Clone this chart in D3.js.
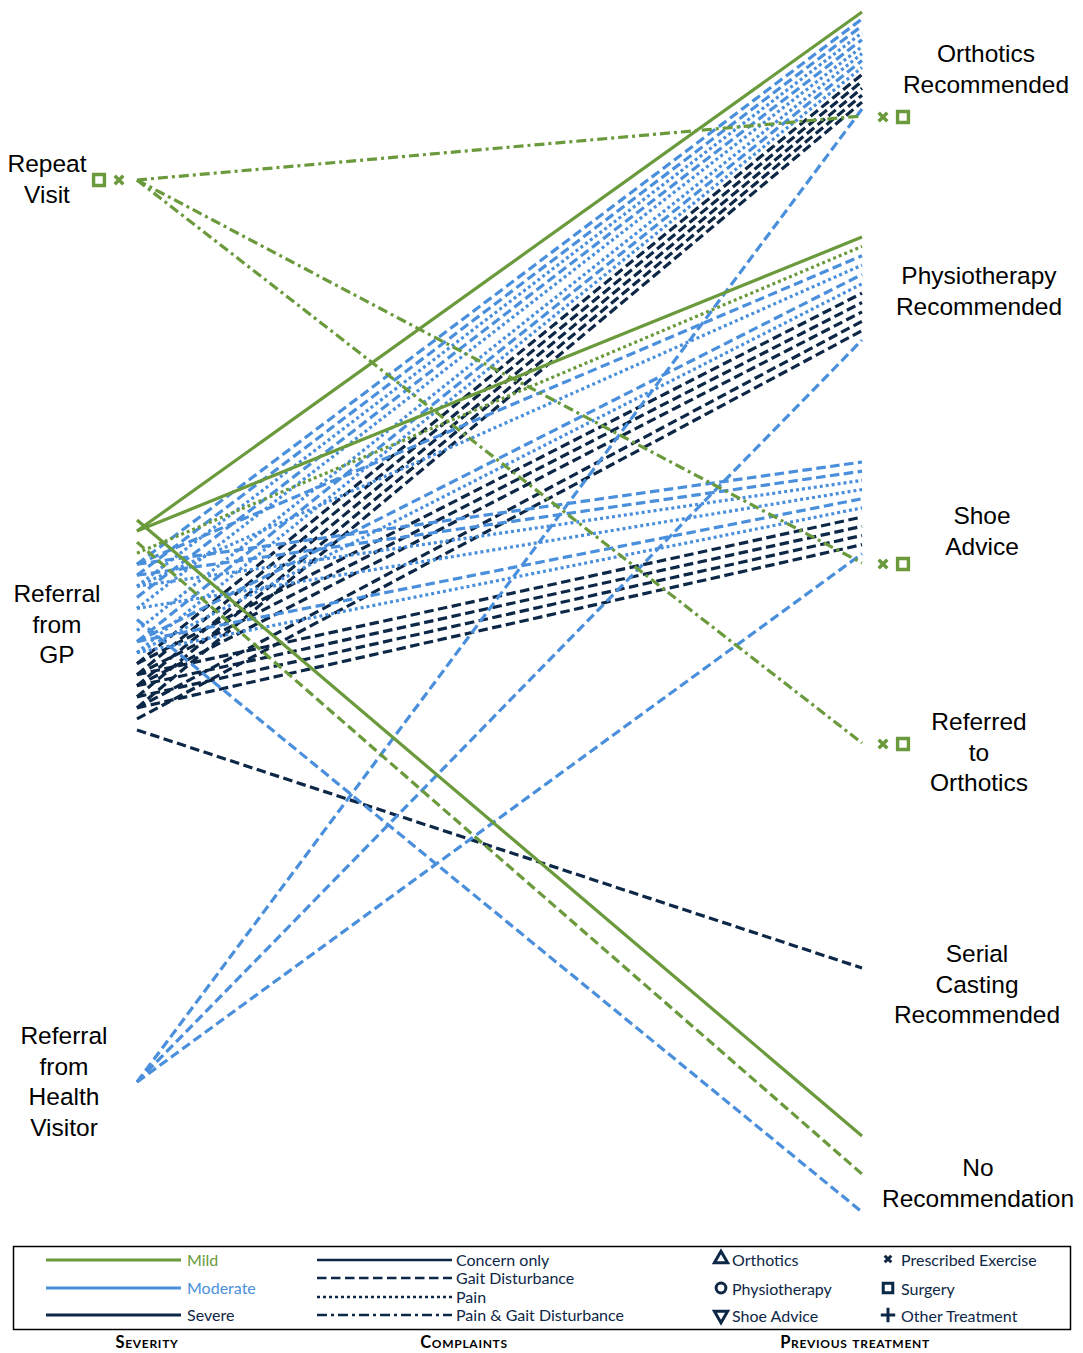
<!DOCTYPE html>
<html>
<head>
<meta charset="utf-8">
<script src="https://cdn.jsdelivr.net/npm/d3@7"></script>
<style>
  html, body { margin: 0; padding: 0; background: #fff; }
  svg { display: block; }
</style>
</head>
<body>
<script>
// ---- categories ----
const sourceNodes = ["Repeat Visit", "Referral from GP", "Referral from Health Visitor"];
const outcomeNodes = ["Orthotics Recommended", "Physiotherapy Recommended", "Shoe Advice",
                      "Referred to Orthotics", "Serial Casting Recommended", "No Recommendation"];
const severityLevels = ["Mild", "Moderate", "Severe"];
const complaintTypes = ["Concern only", "Gait Disturbance", "Pain", "Pain & Gait Disturbance"];
const treatmentTypes = ["Orthotics", "Physiotherapy", "Shoe Advice",
                        "Prescribed Exercise", "Surgery", "Other Treatment"];

// ---- patients, per referral source, in listing order ----
// [severity, complaint, outcomes, previous treatments]
const repeatVisitPatients = [
  ["Mild", "Pain & Gait Disturbance",
   ["Orthotics Recommended", "Shoe Advice", "Referred to Orthotics"],
   ["Prescribed Exercise", "Surgery"]]
];
const gpPatients = [
  ["Mild", "Concern only", ["No Recommendation"], []],
  ["Mild", "Concern only", ["Orthotics Recommended", "Physiotherapy Recommended"], []],
  ["Mild", "Gait Disturbance", ["No Recommendation"], []],
  ["Mild", "Pain", ["Physiotherapy Recommended"], []],
  ["Moderate", "Gait Disturbance", ["Orthotics Recommended", "Physiotherapy Recommended", "Shoe Advice"], []],
  ["Moderate", "Gait Disturbance", ["Orthotics Recommended", "Shoe Advice"], []],
  ["Moderate", "Pain", ["Orthotics Recommended", "Physiotherapy Recommended", "Shoe Advice"], []],
  ["Moderate", "Gait Disturbance", ["Orthotics Recommended"], []],
  ["Moderate", "Pain", ["Orthotics Recommended", "Shoe Advice"], []],
  ["Moderate", "Gait Disturbance", ["No Recommendation"], []],
  ["Moderate", "Pain", ["Orthotics Recommended"], []],
  ["Moderate", "Gait Disturbance", ["Orthotics Recommended", "Physiotherapy Recommended", "Shoe Advice"], []],
  ["Moderate", "Pain", ["Orthotics Recommended", "Physiotherapy Recommended", "Shoe Advice"], []],
  ["Severe", "Gait Disturbance", ["Orthotics Recommended", "Physiotherapy Recommended"], []],
  ["Severe", "Gait Disturbance", ["Orthotics Recommended", "Physiotherapy Recommended", "Shoe Advice"], []],
  ["Severe", "Gait Disturbance", ["Orthotics Recommended", "Physiotherapy Recommended", "Shoe Advice"], []],
  ["Severe", "Gait Disturbance", ["Orthotics Recommended", "Shoe Advice"], []],
  ["Severe", "Gait Disturbance", ["Orthotics Recommended", "Physiotherapy Recommended", "Shoe Advice"], []],
  ["Severe", "Gait Disturbance", ["Physiotherapy Recommended"], []],
  ["Severe", "Gait Disturbance", ["Serial Casting Recommended"], []]
];
const healthVisitorPatients = [
  ["Moderate", "Gait Disturbance",
   ["Orthotics Recommended", "Physiotherapy Recommended", "Shoe Advice"], []]
];

// ---- layout ----
const W = 1083, H = 1353;
const svg = d3.select("body").append("svg").attr("width", W).attr("height", H)
  .style("font-family", "Lato, 'Open Sans', sans-serif");

const GREEN = "#6a9a3b", BLUE = "#4a8fdc", NAVY = "#0d2747";
const colour = d3.scaleOrdinal(severityLevels, [GREEN, BLUE, NAVY]);
const dash = d3.scaleOrdinal(complaintTypes, [null, "9.5,4.5", "3,3", "10,4,3,4"]);

const x = d3.scalePoint().domain(["source", "outcome"]).range([137, 862]);

// vertical extent available at each node
const nodeExtent = {
  "Repeat Visit": [180, 180],
  "Referral from GP": [520, 730],
  "Referral from Health Visitor": [1082, 1082],
  "Orthotics Recommended": [12, 116],
  "Physiotherapy Recommended": [237, 340],
  "Shoe Advice": [462, 563],
  "Referred to Orthotics": [743, 743],
  "Serial Casting Recommended": [968, 968],
  "No Recommendation": [1136, 1212]
};
function nodeScale(name, n) {
  return d3.scaleLinear().domain([0, Math.max(n - 1, 1)]).range(nodeExtent[name]);
}

const patientsBySource = {
  "Repeat Visit": repeatVisitPatients,
  "Referral from GP": gpPatients,
  "Referral from Health Visitor": healthVisitorPatients
};
// order in which sources stack at each outcome
const stackOrder = ["Referral from GP", "Referral from Health Visitor", "Repeat Visit"];

const links = [];
const sourcePoints = [];
sourceNodes.forEach(src => {
  const list = patientsBySource[src];
  const ys = nodeScale(src, list.length);
  list.forEach((p, i) => {
    const [severity, complaint, outcomes, previous] = p;
    sourcePoints.push({ src, y: ys(i), severity, previous });
    outcomes.forEach(t => links.push({
      src, rank: i, target: t, severity, complaint, previous, y0: ys(i)
    }));
  });
});
outcomeNodes.forEach(t => {
  const ls = links.filter(l => l.target === t).sort((a, b) =>
    d3.ascending(stackOrder.indexOf(a.src), stackOrder.indexOf(b.src)) || d3.ascending(a.rank, b.rank));
  const ys = nodeScale(t, ls.length);
  ls.forEach((l, i) => { l.y1 = ys(i); });
});

// draw heavier categories underneath, mild on top
const drawOrder = links.slice().sort((a, b) =>
  d3.descending(severityLevels.indexOf(a.severity), severityLevels.indexOf(b.severity)));

svg.append("g").selectAll("line").data(drawOrder).join("line")
  .attr("x1", x("source")).attr("y1", d => d.y0)
  .attr("x2", x("outcome")).attr("y2", d => d.y1)
  .attr("stroke", d => colour(d.severity))
  .attr("stroke-width", 3.2)
  .attr("stroke-dasharray", d => dash(d.complaint))
  .attr("fill", "none");

// ---- previous-treatment markers ----
const symbolType = {
  "Orthotics": d3.symbolTriangle2,
  "Physiotherapy": d3.symbolCircle,
  "Shoe Advice": d3.symbolTriangle2,
  "Prescribed Exercise": d3.symbolTimes,
  "Surgery": d3.symbolSquare2,
  "Other Treatment": d3.symbolPlus
};
const symbolSize = { "Prescribed Exercise": 50, "Surgery": 150, "Other Treatment": 60,
                     "Orthotics": 110, "Physiotherapy": 70, "Shoe Advice": 110 };
function marker(g, type, cx, cy, col, sw) {
  g.append("path")
    .attr("d", d3.symbol(symbolType[type], symbolSize[type])())
    .attr("transform", `translate(${cx},${cy})` + (type === "Shoe Advice" ? " rotate(180)" : ""))
    .attr("fill", "none").attr("stroke", col).attr("stroke-width", sw);
}
const markerOffsets = [18, 38];
const mg = svg.append("g");
sourcePoints.filter(s => s.previous.length).forEach(s => {
  // exercise nearest the line end, surgery outside it
  s.previous.forEach((t, k) => marker(mg, t, x("source") - markerOffsets[k], s.y, colour(s.severity), 3.4));
});
links.filter(l => l.previous.length).forEach(l => {
  l.previous.forEach((t, k) => marker(mg, t, x("outcome") + markerOffsets[k] + 3, l.y1 + 1, colour(l.severity), 3.4));
});

// ---- node labels ----
const labelFont = "'Liberation Sans', Arial, sans-serif";
const nodeLabels = [
  { lines: ["Repeat", "Visit"], cx: 47, y: 172 },
  { lines: ["Referral", "from", "GP"], cx: 57, y: 602 },
  { lines: ["Referral", "from", "Health", "Visitor"], cx: 64, y: 1044 },
  { lines: ["Orthotics", "Recommended"], cx: 986, y: 62 },
  { lines: ["Physiotherapy", "Recommended"], cx: 979, y: 284 },
  { lines: ["Shoe", "Advice"], cx: 982, y: 524 },
  { lines: ["Referred", "to", "Orthotics"], cx: 979, y: 730 },
  { lines: ["Serial", "Casting", "Recommended"], cx: 977, y: 962 },
  { lines: ["No", "Recommendation"], cx: 978, y: 1176 }
];
const lg = svg.append("g").attr("font-family", labelFont).attr("font-size", 24.5)
  .attr("text-anchor", "middle").attr("fill", "#000");
nodeLabels.forEach(n => {
  const t = lg.append("text").attr("x", n.cx).attr("y", n.y);
  n.lines.forEach((s, i) => t.append("tspan").attr("x", n.cx).attr("dy", i ? 30.5 : 0).text(s));
});

// ---- legend ----
const leg = svg.append("g").attr("font-size", 16);
leg.append("rect").attr("x", 13.5).attr("y", 1246.5).attr("width", 1057).attr("height", 83)
  .attr("fill", "none").attr("stroke", "#000").attr("stroke-width", 1.5);

const sevRows = [1260, 1288, 1315];
severityLevels.forEach((s, i) => {
  leg.append("line").attr("x1", 46).attr("x2", 181).attr("y1", sevRows[i]).attr("y2", sevRows[i])
    .attr("stroke", colour(s)).attr("stroke-width", 2.8);
  leg.append("text").attr("x", 187).attr("y", sevRows[i] + 6).attr("fill", colour(s)).text(s);
});

const compRows = [1260, 1278, 1297, 1315];
complaintTypes.forEach((c, i) => {
  leg.append("line").attr("x1", 317).attr("x2", 452).attr("y1", compRows[i]).attr("y2", compRows[i])
    .attr("stroke", NAVY).attr("stroke-width", 2.5).attr("stroke-dasharray", dash(c));
  leg.append("text").attr("x", 456).attr("y", compRows[i] + 6).attr("fill", NAVY).text(c);
});

const trRows = [1259, 1288, 1315];
const legendSymbolSize = { "Orthotics": 125, "Physiotherapy": 75, "Shoe Advice": 125,
                           "Prescribed Exercise": 30, "Surgery": 115, "Other Treatment": 70 };
treatmentTypes.forEach((t, i) => {
  const col = i < 3 ? 721 : 888;
  const row = trRows[i % 3];
  leg.append("path")
    .attr("d", d3.symbol(symbolType[t], legendSymbolSize[t])())
    .attr("transform", `translate(${col},${row})` + (t === "Shoe Advice" ? " rotate(180)" : ""))
    .attr("fill", "none").attr("stroke", NAVY).attr("stroke-width", 3);
  leg.append("text").attr("x", col + (i < 3 ? 11 : 13)).attr("y", row + 7).attr("fill", NAVY).text(t);
});

const titles = [["Severity", 147], ["Complaints", 464], ["Previous treatment", 855]];
titles.forEach(([t, cx]) => {
  svg.append("text").attr("x", cx).attr("y", 1348).attr("text-anchor", "middle")
    .attr("font-size", 16.5).attr("font-weight", 700).style("font-variant", "small-caps")
    .attr("letter-spacing", 0.7).attr("fill", "#000").text(t);
});
</script>
</body>
</html>
